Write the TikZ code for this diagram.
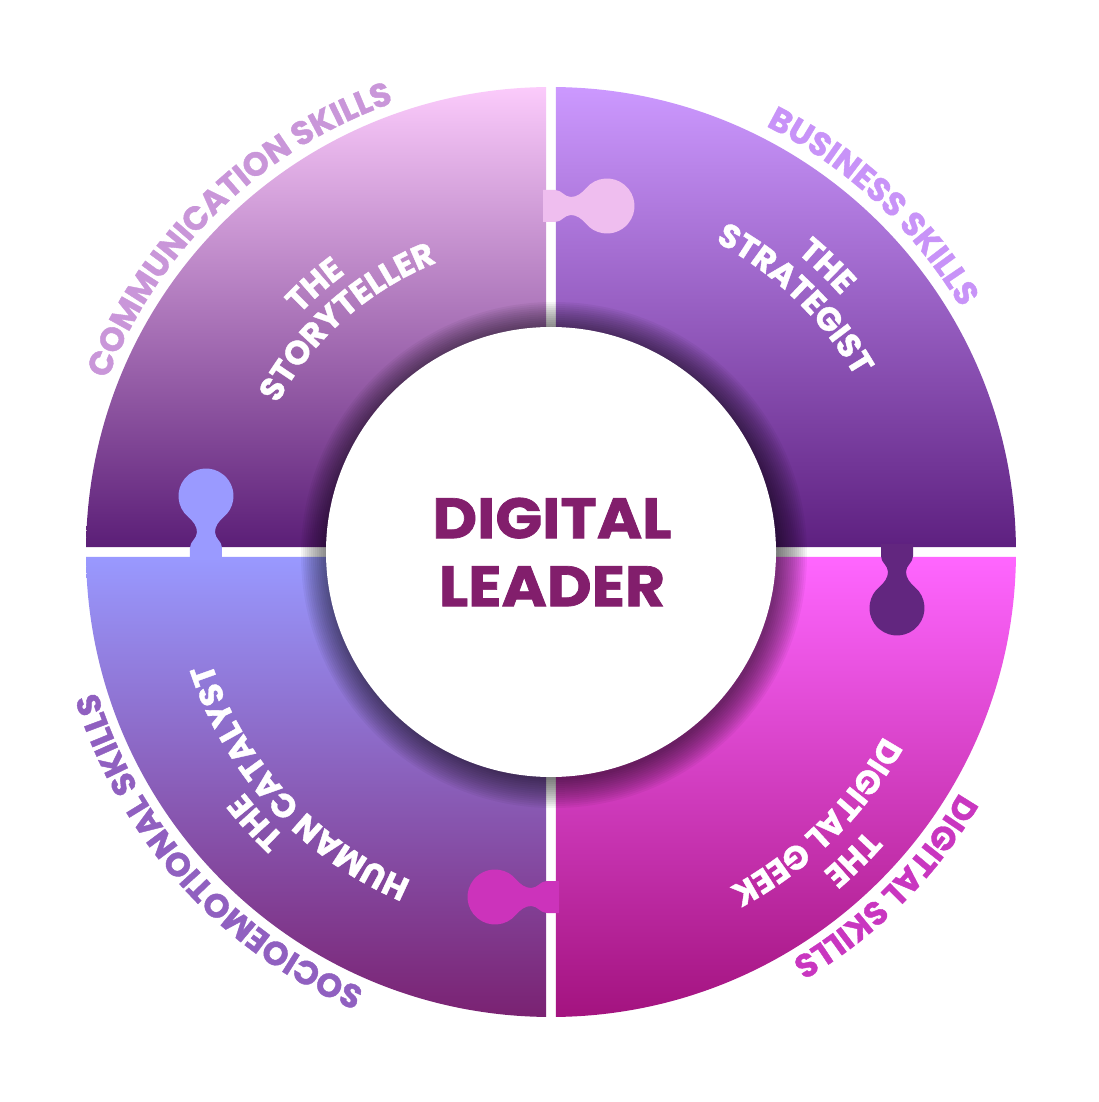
\documentclass[tikz,border=0pt]{standalone}
\usepackage{fontspec}
\newfontfamily\pop{Poppins}[BoldFeatures={FakeBold=1.2}]
\usetikzlibrary{decorations.text}
\definecolor{tlTop}{HTML}{FBCBFB}\definecolor{tlMid}{HTML}{CC98D2}\definecolor{tlBot}{HTML}{5B1E77}
\definecolor{trTop}{HTML}{CC99FF}\definecolor{trMid}{HTML}{A677D6}\definecolor{trBot}{HTML}{5E2080}
\definecolor{brTop}{HTML}{FF66FF}\definecolor{brMid}{HTML}{DC48D8}\definecolor{brBot}{HTML}{A3137F}
\definecolor{blTop}{HTML}{9999FF}\definecolor{blMid}{HTML}{8D7CD6}\definecolor{blBot}{HTML}{7A2272}
\definecolor{knobA}{HTML}{EFBEEF}\definecolor{knobB}{HTML}{9A9AFF}
\definecolor{knobC}{HTML}{62267F}\definecolor{knobD}{HTML}{CC33BB}
\definecolor{labA}{HTML}{C996D9}\definecolor{labB}{HTML}{C893F8}
\definecolor{labC}{HTML}{C936C0}\definecolor{labD}{HTML}{9060C0}
\definecolor{leadcol}{HTML}{821E6C}
\newcommand\ringtext[5]{%
  \path[decorate, decoration={text along path, text align=center, text color=#3,
     text={|\pop\bfseries\fontsize{#4}{#4}\selectfont|#5}}]
     ({#2+80}:#1pt) arc[start angle={#2+80}, end angle={#2-80}, radius=#1pt];}
\newcommand\knobshape{%
  (-8,16) -- (4,16) .. controls (11,16) and (13,9) .. (20,9)
  .. controls (26,9) and (31.1,13.1) .. (34.93,17.68)
  arc[start angle=140, end angle=-140, radius=27.5pt]
  .. controls (31.1,-13.1) and (26,-9) .. (20,-9)
  .. controls (13,-9) and (11,-16) .. (4,-16) -- (-8,-16) -- cycle}
\begin{document}
\begin{tikzpicture}[x=1pt,y=1pt]
\useasboundingbox[fill=white] (-551,-550) rectangle (548,552);
% quadrants
\path[top color=tlTop, middle color=tlMid, bottom color=tlBot]
  (-5,5) -- (90.616:465pt) arc[start angle=90.616, end angle=179.384, radius=465pt] -- cycle;
\path[top color=trTop, middle color=trMid, bottom color=trBot]
  (5,5) -- (89.384:465pt) arc[start angle=89.384, end angle=0.616, radius=465pt] -- cycle;
\path[top color=brTop, middle color=brMid, bottom color=brBot]
  (5,-5) -- (-0.616:465pt) arc[start angle=-0.616, end angle=-89.384, radius=465pt] -- cycle;
\path[top color=blTop, middle color=blMid, bottom color=blBot]
  (-5,-5) -- (-90.616:465pt) arc[start angle=-90.616, end angle=-179.384, radius=465pt] -- cycle;
% puzzle knobs
\begin{scope}[shift={(0,346)}]\fill[knobA] \knobshape;\end{scope}
\begin{scope}[shift={(-345,0)},rotate=90]\fill[knobB] \knobshape;\end{scope}
\begin{scope}[shift={(346,0)},rotate=-90]\fill[knobC] \knobshape;\end{scope}
\begin{scope}[shift={(0,-345)},rotate=180]\fill[knobD] \knobshape;\end{scope}
% shadow of centre disc
\foreach \i in {0,...,14}{\fill[black,opacity=0.045] (3,-3) circle[radius={225pt+2pt*\i}];}
\fill[white] (0,0) circle[radius=225pt];
\node[inner sep=0pt, align=center, text=leadcol, xscale=1.08, transform shape,
      font=\pop\bfseries\fontsize{57}{68}\selectfont] (lead) at (1,0) {DIGITAL\\LEADER};
% outer labels
\ringtext{476}{134}{labA}{33}{COMMUNICATION SKILLS}
\ringtext{477}{47}{labB}{33}{BUSINESS SKILLS}
\ringtext{474}{-45}{labC}{33}{DIGITAL SKILLS}
\ringtext{475}{222}{labD}{33}{SOCIOEMOTIONAL SKILLS}
% inner titles
\ringtext{346}{131.5}{white}{33}{THE}
\ringtext{311}{131.5}{white}{33}{STORYTELLER}
\ringtext{387}{46}{white}{33}{THE}
\ringtext{351}{46}{white}{33}{STRATEGIST}
\ringtext{420}{-45.5}{white}{33}{THE}
\ringtext{380}{-45.5}{white}{33}{DIGITAL GEEK}
\ringtext{390}{222.5}{white}{33}{THE}
\ringtext{357}{222.5}{white}{33}{HUMAN CATALYST}
\end{tikzpicture}
\end{document}
